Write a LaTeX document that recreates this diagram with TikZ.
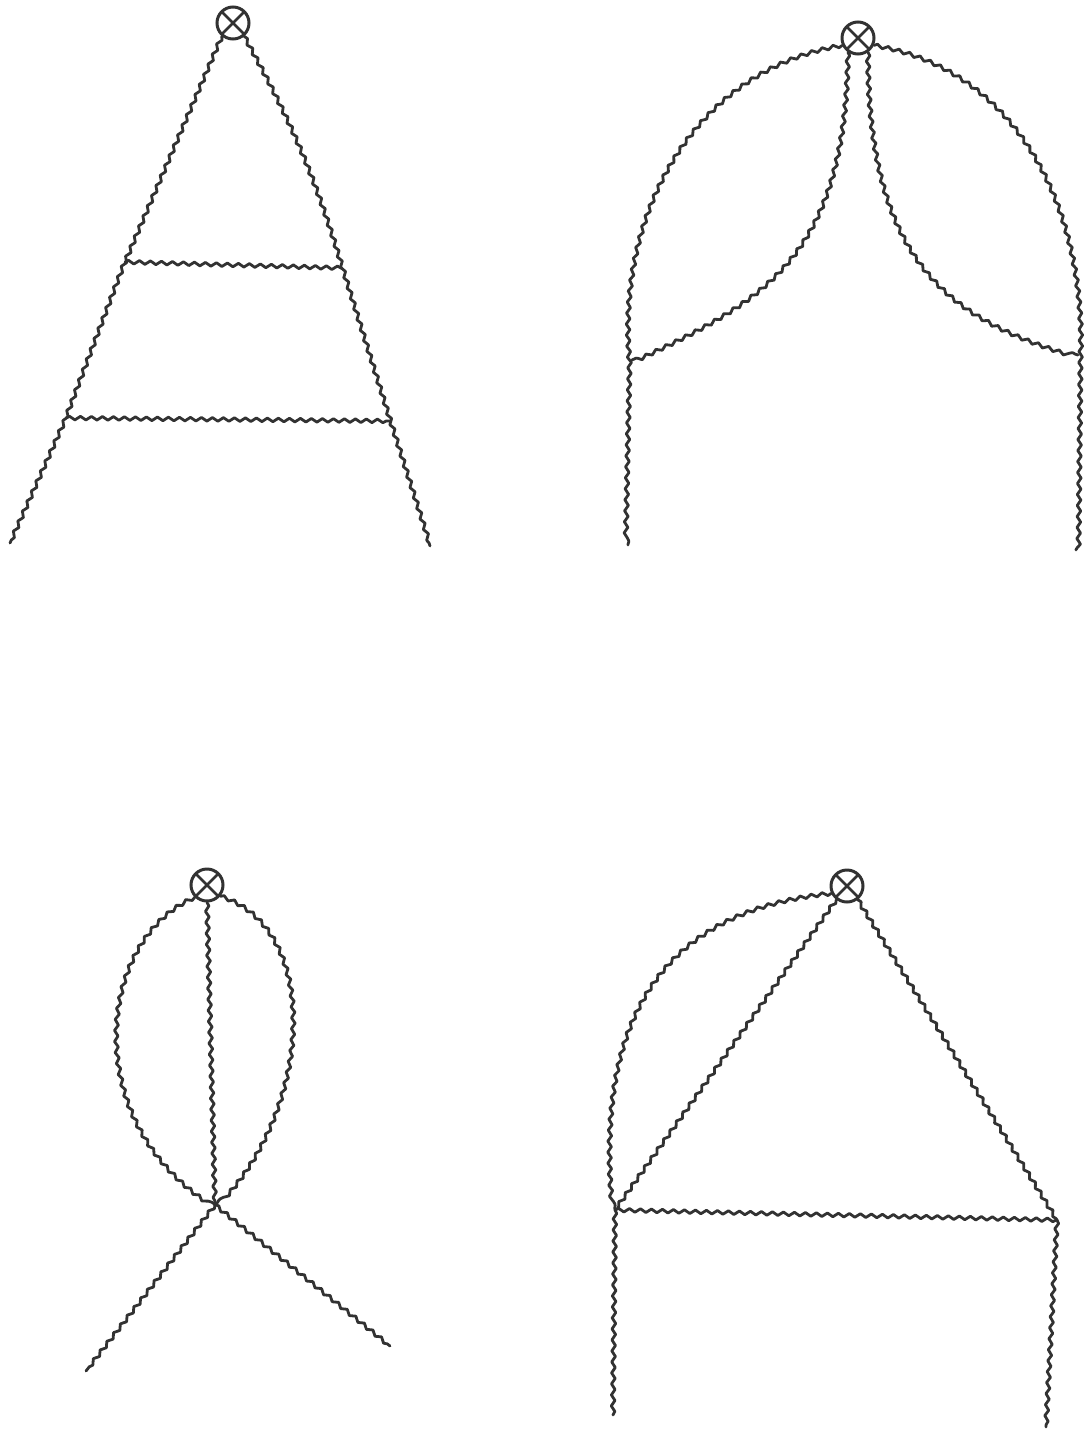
\documentclass[tikz,border=0pt]{standalone}
\usepackage{tikz}
\usetikzlibrary{decorations.pathmorphing}
\definecolor{inkgray}{RGB}{50,50,50}

\begin{document}
\begin{tikzpicture}[x=1pt,y=-1pt,
  gluon/.style={draw=inkgray, line width=2.8pt, line join=round, line cap=round,
    decorate, decoration={snake, amplitude=1.8pt, segment length=11pt}},
  insertion/.style={circle, draw=inkgray, line width=3pt, minimum size=32pt,
    inner sep=0pt, path picture={\draw[inkgray, line width=2.6pt]
      (path picture bounding box.north west) -- (path picture bounding box.south east)
      (path picture bounding box.north east) -- (path picture bounding box.south west);}}]
\useasboundingbox (0,0) rectangle (1084,1430);

% ladder
\node[insertion] (va) at (233,23) {};
\coordinate (a1) at (125,262);
\coordinate (a2) at (342,268);
\coordinate (a3) at (66,418);
\coordinate (a4) at (390,421);
\coordinate (aL) at (10,543);
\coordinate (aR) at (430,546);
\draw[gluon] (va.-130) -- (a1) -- (a3) -- (aL);
\draw[gluon] (va.-50) to[bend left=6] (a2) -- (a4) -- (aR);
\draw[gluon] (a1) -- (a2);
\draw[gluon] (a3) -- (a4);

% crossed arcs
\node[insertion] (vb) at (858,38) {};
\coordinate (b1) at (632,360);
\coordinate (b2) at (1078,355);
\coordinate (bL) at (628,545);
\coordinate (bR) at (1076,550);
\draw[gluon] (vb.-155) to[out=190,in=95] (b1) -- (bL);
\draw[gluon] (vb.-25) to[out=-10,in=88] (b2) -- (bR);
\draw[gluon] (vb.-125) .. controls (845,260) and (760,300) .. (b1);
\draw[gluon] (vb.-55) .. controls (868,270) and (960,320) .. (b2);

% three-line bubble
\node[insertion] (vc) at (207,885) {};
\coordinate (c1) at (215,1205);
\coordinate (cL) at (86,1371);
\coordinate (cR) at (390,1346);
\draw[gluon] (vc.-135) .. controls (100,940) and (80,1120) .. (c1);
\draw[gluon] (vc.-90) -- (c1);
\draw[gluon] (vc.-40) .. controls (320,930) and (310,1110) .. (c1);
\draw[gluon] (c1) -- (cL);
\draw[gluon] (c1) -- (cR);

% triangle with arc
\node[insertion] (vd) at (847,886) {};
\coordinate (d1) at (615,1210);
\coordinate (d2) at (1057,1220);
\coordinate (dL) at (613,1415);
\coordinate (dR) at (1046,1427);
\draw[gluon] (vd.-155) .. controls (680,910) and (595,1000) .. (d1);
\draw[gluon] (vd.-128) -- (d1);
\draw[gluon] (vd.-52) -- (d2);
\draw[gluon] (d1) -- (d2);
\draw[gluon] (d1) -- (dL);
\draw[gluon] (d2) -- (dR);
\end{tikzpicture}
\end{document}
